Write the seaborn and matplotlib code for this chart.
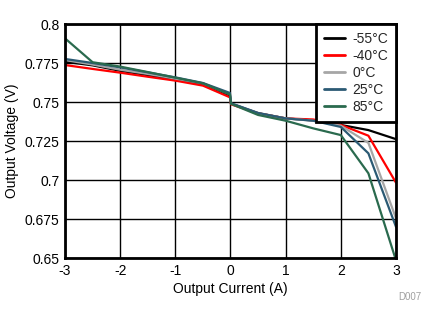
import matplotlib
matplotlib.use("Agg")
import matplotlib.pyplot as plt
import seaborn as sns
import pandas as pd

# Output current sweep (A); the step at 0 A is drawn as two close points
current = [-3, -2.5, -2, -1.5, -1, -0.5, -0.01, 0.01, 0.5, 1, 1.5, 2, 2.5, 3]

# Output voltage (V) per ambient temperature
v_m55 = [0.7758, 0.7735, 0.7700, 0.7672, 0.7642, 0.7615, 0.7540, 0.7490, 0.7428, 0.7395, 0.7382, 0.7353, 0.7320, 0.7262]
v_m40 = [0.7737, 0.7712, 0.7688, 0.7662, 0.7637, 0.7605, 0.7530, 0.7485, 0.7428, 0.7395, 0.7388, 0.7353, 0.7284, 0.6983]
v_0 = [0.7769, 0.7740, 0.7707, 0.7680, 0.7650, 0.7620, 0.7550, 0.7490, 0.7428, 0.7395, 0.7380, 0.7348, 0.7238, 0.6755]
v_25 = [0.7776, 0.7750, 0.7722, 0.7690, 0.7658, 0.7622, 0.7558, 0.7492, 0.7430, 0.7395, 0.7380, 0.7340, 0.7171, 0.6700]
v_85 = [0.7908, 0.7755, 0.7727, 0.7692, 0.7656, 0.7620, 0.7548, 0.7488, 0.7417, 0.7380, 0.7331, 0.7288, 0.7043, 0.6485]

labels = ["-55°C", "-40°C", "0°C", "25°C", "85°C"]
colors = ["#000000", "#FF0000", "#A6A6A6", "#2B5A74", "#2A6A4E"]

x_ticks = [-3, -2, -1, 0, 1, 2, 3]
y_ticks = [0.65, 0.675, 0.7, 0.725, 0.75, 0.775, 0.8]
y_tick_labels = ["0.65", "0.675", "0.7", "0.725", "0.75", "0.775", "0.8"]

frames = []
for lab, vals in zip(labels, [v_m55, v_m40, v_0, v_25, v_85]):
    frames.append(pd.DataFrame({"current": current, "voltage": vals, "temp": lab}))
df = pd.concat(frames, ignore_index=True)

sns.set_theme(style="white")
plt.rcParams["font.family"] = ["Liberation Sans", "DejaVu Sans"]

fig = plt.figure(figsize=(4.34, 3.24), dpi=100)
ax = fig.add_axes([0.1498, 0.2037, 0.7626, 0.7222])

sns.lineplot(data=df, x="current", y="voltage", hue="temp", hue_order=labels,
             palette=colors, linewidth=1.6, ax=ax, sort=False, estimator=None)

ax.set_xlim(-3, 3)
ax.set_ylim(0.65, 0.8)
ax.set_xticks(x_ticks)
ax.set_xticklabels([str(t) for t in x_ticks])
ax.set_yticks(y_ticks)
ax.set_yticklabels(y_tick_labels)
ax.grid(True, color="black", linewidth=1.0)
ax.set_axisbelow(True)
ax.tick_params(axis="both", length=0, pad=4, labelsize=10, colors="black")

for sp in ax.spines.values():
    sp.set_visible(True)
    sp.set_color("black")
    sp.set_linewidth(2.0)

ax.set_xlabel("Output Current (A)", fontsize=10, color="black", labelpad=3)
ax.set_ylabel("Output Voltage (V)", fontsize=10, color="black", labelpad=4)

leg = ax.legend(loc="upper right", bbox_to_anchor=(1.0, 1.0), borderaxespad=0,
                frameon=True, fancybox=False, fontsize=10, handlelength=1.5,
                handletextpad=0.55, labelspacing=0.22, borderpad=0.55)
leg.get_frame().set_edgecolor("black")
leg.get_frame().set_linewidth(2.0)
leg.get_frame().set_alpha(1)
for line in leg.get_lines():
    line.set_linewidth(2.0)

fig.text(0.945, 0.083, "D007", fontsize=7, color="#A0A0A0", ha="center", va="center")

fig.savefig("out.png", dpi=100)
